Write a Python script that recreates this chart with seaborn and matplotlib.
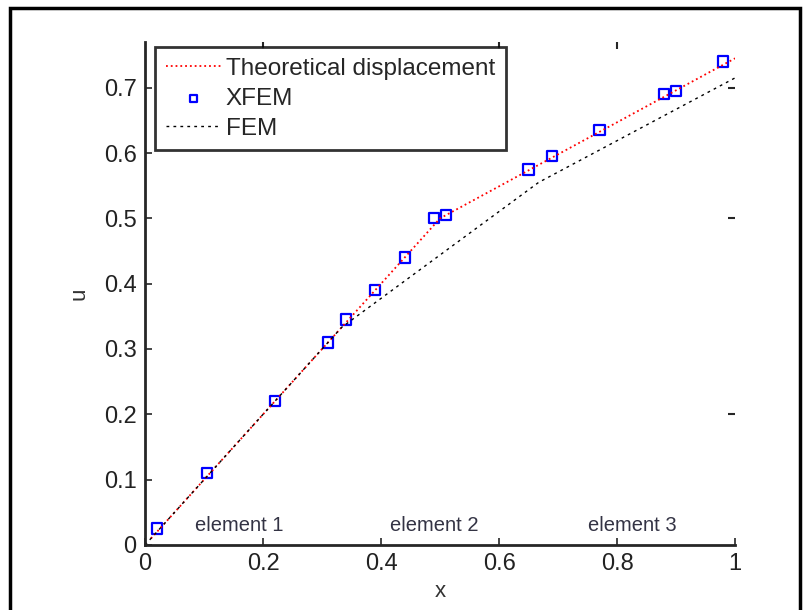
import numpy as np
import pandas as pd
import seaborn as sns
import matplotlib.pyplot as plt
from matplotlib.patches import Rectangle

# data
theory_x = [0.01, 0.5, 1.0]
theory_u = [0.01, 0.5, 0.745]

fem_x = [0.0, 0.333, 0.667, 1.0]
fem_u = [0.0, 0.333, 0.555, 0.715]

xfem_x = [0.02, 0.105, 0.22, 0.31, 0.34, 0.39, 0.44, 0.49, 0.51, 0.65, 0.69, 0.77, 0.88, 0.90, 0.98]
xfem_u = [0.025, 0.11, 0.22, 0.31, 0.345, 0.39, 0.44, 0.50, 0.505, 0.575, 0.595, 0.635, 0.69, 0.695, 0.74]

element_labels = ["element 1", "element 2", "element 3"]
element_x = [0.085, 0.415, 0.75]

sns.set_style("ticks")
plt.rcParams['font.family'] = ['Liberation Sans', 'DejaVu Sans']

theory = pd.DataFrame({"x": theory_x, "u": theory_u})
fem = pd.DataFrame({"x": fem_x, "u": fem_u})
xfem = pd.DataFrame({"x": xfem_x, "u": xfem_u})

fig = plt.figure(figsize=(8.06, 6.10), dpi=100)
ax = fig.add_axes([0.180, 0.1066, 0.732, 0.8246])

sns.lineplot(data=theory, x="x", y="u", ax=ax, color="red", linestyle=":",
             linewidth=1.3, label="Theoretical displacement")
sns.scatterplot(data=xfem, x="x", y="u", ax=ax, marker="s", s=55,
                facecolor="none", edgecolor="blue", linewidth=1.6, label="XFEM")
sns.lineplot(data=fem, x="x", y="u", ax=ax, color="black", linewidth=1.0,
             linestyle=(0, (2, 3)), label="FEM")

for lab, ex in zip(element_labels, element_x):
    ax.text(ex, 0.03, lab, fontsize=14.5, color="#333344", va="center")

ax.set_xlim(0, 1)
ax.set_ylim(0, 0.77)
ax.set_xticks([0, 0.2, 0.4, 0.6, 0.8, 1])
ax.set_xticklabels(["0", "0.2", "0.4", "0.6", "0.8", "1"])
ax.set_yticks([0, 0.1, 0.2, 0.3, 0.4, 0.5, 0.6, 0.7])
ax.set_yticklabels(["0", "0.1", "0.2", "0.3", "0.4", "0.5", "0.6", "0.7"])
ax.tick_params(direction="in", labelsize=17, length=5, width=1.2, pad=6,
               labelcolor="#222222")
ax.set_xlabel("x", fontsize=16, color="#333333", labelpad=4)
ax.set_ylabel("u", fontsize=16, color="#333333", labelpad=10)
for side in ["left", "bottom"]:
    ax.spines[side].set_linewidth(2)
ax.spines["top"].set_visible(False)
ax.spines["right"].set_visible(False)

# stray tick marks on top and right
top = ax.secondary_xaxis("top")
top.set_xticks([0.2, 0.6, 0.8])
top.set_xticklabels([])
top.tick_params(direction="in", length=5, width=1.5)
top.spines["top"].set_visible(False)
right = ax.secondary_yaxis("right")
right.set_yticks([0.2, 0.5, 0.7])
right.set_yticklabels([])
right.tick_params(direction="in", length=5, width=1.5)
right.spines["right"].set_visible(False)

leg = ax.legend(loc="upper left", bbox_to_anchor=(0.017, 0.99), fontsize=17.5,
                frameon=True, fancybox=False, handlelength=2.25, handletextpad=0.2,
                borderpad=0.45, labelspacing=0.32, markerscale=0.7,
                borderaxespad=0)
leg.get_frame().set_edgecolor("black")
leg.get_frame().set_linewidth(2)

fig.patches.append(Rectangle((0.013, -0.01), 0.98, 0.997, transform=fig.transFigure,
                             fill=False, edgecolor="black", linewidth=2.5))

fig.savefig("out.png", dpi=100)
